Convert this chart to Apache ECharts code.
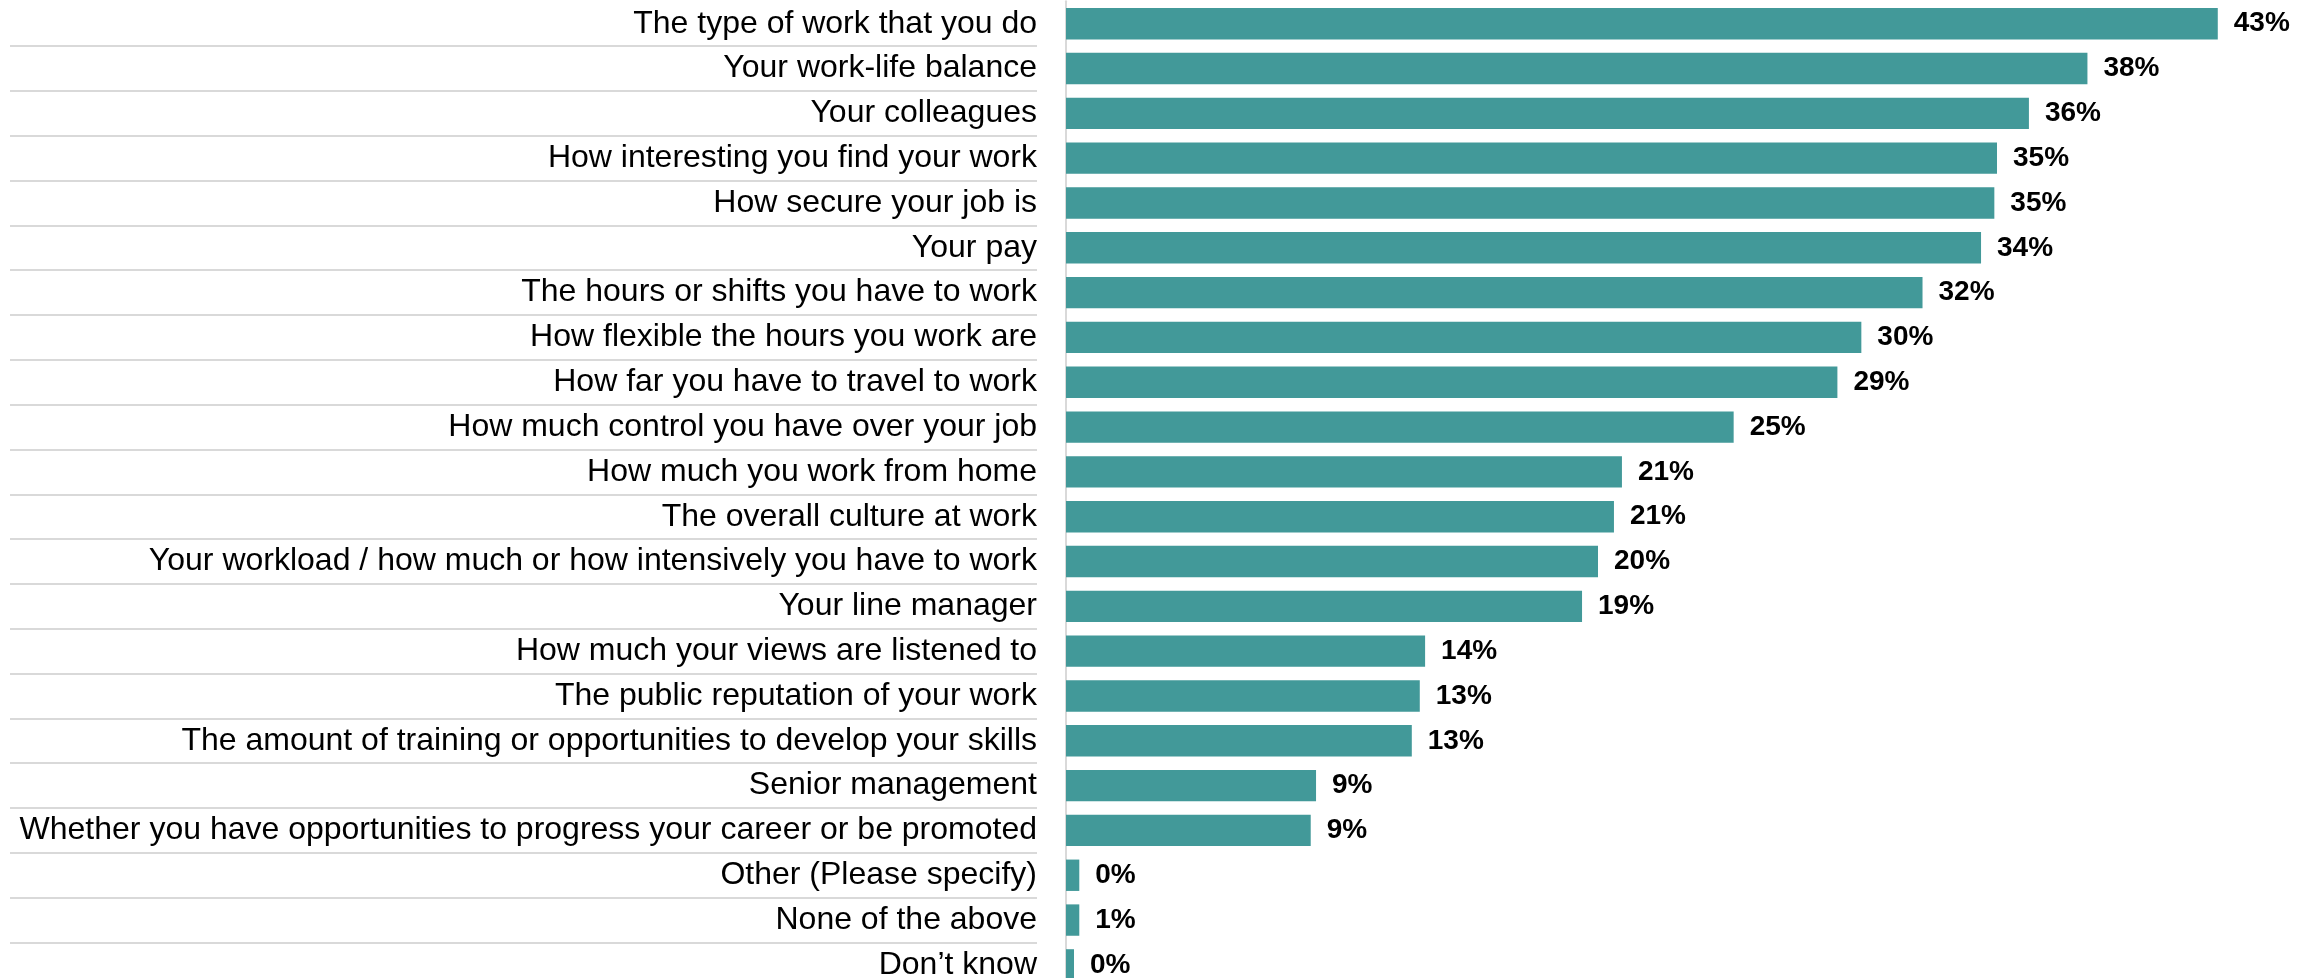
<!DOCTYPE html>
<html>
<head>
<meta charset="utf-8">
<script src="https://cdn.jsdelivr.net/npm/echarts@6/dist/echarts.min.js"></script>
<style>
  html, body { margin: 0; padding: 0; background: #ffffff; overflow: hidden; }
  /* the last row runs a little past the bottom edge, so the chart box is taller than the window */
  #main-chart { width: 2320px; height: 990px; }
</style>
</head>
<body>
<div id="main-chart"></div>
<script>
// categories, top to bottom
const categories = [
    'The type of work that you do',
    'Your work-life balance',
    'Your colleagues',
    'How interesting you find your work',
    'How secure your job is',
    'Your pay',
    'The hours or shifts you have to work',
    'How flexible the hours you work are',
    'How far you have to travel to work',
    'How much control you have over your job',
    'How much you work from home',
    'The overall culture at work',
    'Your workload / how much or how intensively you have to work',
    'Your line manager',
    'How much your views are listened to',
    'The public reputation of your work',
    'The amount of training or opportunities to develop your skills',
    'Senior management',
    'Whether you have opportunities to progress your career or be promoted',
    'Other (Please specify)',
    'None of the above',
    'Don\u2019t know'
];

// bar lengths (percent)
const shares = [43.3, 38.4, 36.2, 35.0, 34.9, 34.4, 32.2, 29.9, 29.0, 25.1, 20.9,
    20.6, 20.0, 19.4, 13.5, 13.3, 13.0, 9.4, 9.2, 0.5, 0.5, 0.3];

// printed labels next to the bars
const shareLabels = ['43%', '38%', '36%', '35%', '35%', '34%', '32%', '30%', '29%', '25%', '21%',
    '21%', '20%', '19%', '14%', '13%', '13%', '9%', '9%', '0%', '1%', '0%'];

const barColor = '#429999';
const ruleColor = '#d9d9d9';
const font = '"Liberation Sans", Arial, sans-serif';

const chartDom = document.getElementById('main-chart');
const myChart = echarts.init(chartDom, null, { renderer: 'canvas' });

const option = {
    animation: false,
    backgroundColor: '#ffffff',
    grid: [
        // bars
        { left: 1066, top: 1.3, width: 1197, height: 986, containLabel: false },
        // row separators behind the labels
        { left: 10, top: 1.3, width: 1027, height: 986, containLabel: false }
    ],
    xAxis: [
        { type: 'value', gridIndex: 0, min: 0, max: 45, show: false },
        { type: 'value', gridIndex: 1, min: 0, max: 1, show: false }
    ],
    yAxis: [
        {
            type: 'category',
            gridIndex: 0,
            inverse: true,
            data: categories,
            axisLine: { show: true, lineStyle: { color: ruleColor, width: 2 } },
            axisTick: { show: false },
            axisLabel: {
                margin: 29,
                fontFamily: font,
                fontSize: 32,
                color: '#000000'
            },
            splitLine: { show: false }
        },
        {
            type: 'category',
            gridIndex: 1,
            inverse: true,
            data: categories,
            axisLine: { show: false },
            axisTick: { show: false },
            axisLabel: { show: false },
            splitLine: {
                show: true,
                interval: (index) => index > 0,
                lineStyle: { color: ruleColor, width: 2 }
            }
        }
    ],
    series: [
        {
            type: 'bar',
            xAxisIndex: 0,
            yAxisIndex: 0,
            data: shares,
            barCategoryGap: '30%',
            itemStyle: { color: barColor },
            label: {
                show: true,
                position: 'right',
                distance: 16,
                fontFamily: font,
                fontSize: 28,
                fontWeight: 'bold',
                color: '#000000',
                formatter: (p) => shareLabels[p.dataIndex]
            }
        }
    ]
};

myChart.setOption(option);
window.addEventListener('resize', () => myChart.resize());
</script>
</body>
</html>
